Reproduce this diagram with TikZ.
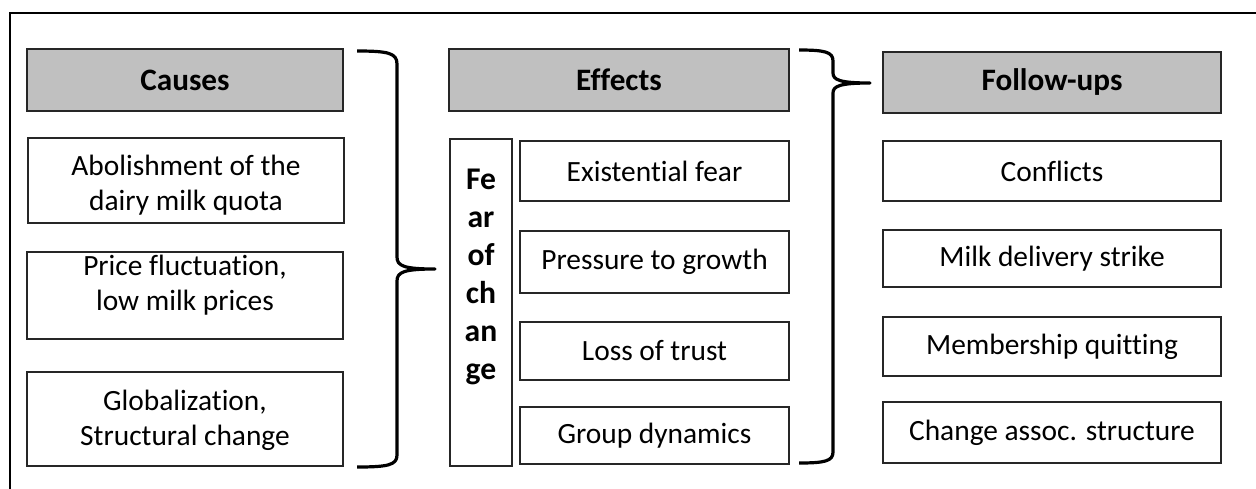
\documentclass[tikz,border=0pt]{standalone}
\usepackage{fontspec}
\setmainfont{Carlito}[Ligatures=NoCommon]
\begin{document}
\begin{tikzpicture}[x=0.5pt,y=-0.5pt,
  every node/.style={inner sep=0pt, outer sep=0pt},
  item/.style={draw=black!85, line width=0.6pt, fill=white, align=center,
     font=\fontsize{14.7}{17.6}\selectfont},
  itemtext/.style={align=center, font=\fontsize{14.7}{17.6}\selectfont},
  head/.style={draw=black!85, line width=0.6pt, fill=headgray, align=center,
     font=\fontsize{15.6}{18}\selectfont\bfseries},
  bracepath/.style={line width=1.6pt, line join=round}]
\definecolor{headgray}{HTML}{C0C0C0}
\useasboundingbox (0,0) rectangle (1256,488);
\begin{scope}
\clip (0,0) rectangle (1256,488);
\draw[line width=1pt] (10,13) rectangle (1262,494);
\end{scope}
% Causes
\node[head, minimum width=158pt, minimum height=31pt] (causes) at (185,80) {Causes};
\node[item, minimum width=158pt, minimum height=42.5pt] (c1) at (186,180.5) {};
\node[itemtext] (c1t) at (186,185) {Abolishment of the\\dairy milk quota};
\node[item, minimum width=158pt, minimum height=43.5pt] (c2) at (185,295.5) {};
\node[itemtext] (c2t) at (185,285.5) {Price fluctuation,\\low milk prices};
\node[item, minimum width=158pt, minimum height=47pt] (c3) at (185,419) {};
\node[itemtext] (c3t) at (185,420) {Globalization,\\Structural change};
% Effects
\node[head, minimum width=170pt, minimum height=31pt] (effects) at (619,80) {Effects};
\node[item, minimum width=31pt, minimum height=163.5pt] (fear) at (481,302.5) {};
\node[anchor=north, align=center, font=\fontsize{15.8}{19}\selectfont\bfseries] (feartext) at (481,169) {Fe\\ar\\of\\ch\\an\\ge};
\node[item, minimum width=134.5pt, minimum height=30pt] (e1) at (654.5,171) {Existential fear};
\node[item, minimum width=134.5pt, minimum height=31pt] (e2) at (654.5,262) {Pressure to growth};
\node[item, minimum width=134.5pt, minimum height=29pt] (e3) at (654.5,351) {Loss of trust};
\node[item, minimum width=134.5pt, minimum height=28.5pt] (e4) at (654.5,435.5) {Group dynamics};
% Follow-ups
\node[head, minimum width=169pt, minimum height=30.5pt] (follow) at (1052,82.5) {Follow-ups};
\node[item, minimum width=169pt, minimum height=30pt] (f1) at (1052,171) {Conflicts};
\node[item, minimum width=169pt, minimum height=28.5pt] (f2) at (1052,258.5) {Milk delivery strike};
\node[item, minimum width=169pt, minimum height=29.5pt] (f3) at (1052,346.5) {Membership quitting};
\node[item, minimum width=169pt, minimum height=30.5pt] (f4) at (1052,432.5) {Change assoc. structure};
% Braces
\coordinate (b1top) at (357,51);
\coordinate (b1tip) at (435,269);
\coordinate (b1bot) at (357,467);
\draw[bracepath] (b1top) .. controls (388,51) and (397,53) .. (397,64) -- (397,257)
  .. controls (397,266) and (404,269) .. (b1tip)
  .. controls (404,269) and (397,272) .. (397,281) -- (397,455)
  .. controls (397,465) and (388,467) .. (b1bot);
\coordinate (b2top) at (799,50);
\coordinate (b2tip) at (870,83);
\coordinate (b2bot) at (799,463);
\draw[bracepath] (b2top) .. controls (825,50) and (833,52) .. (833,61) -- (833,73)
  .. controls (833,80) and (840,83) .. (b2tip)
  .. controls (840,83) and (833,86) .. (833,93) -- (833,452)
  .. controls (833,461) and (825,463) .. (b2bot);
\end{tikzpicture}
\end{document}
